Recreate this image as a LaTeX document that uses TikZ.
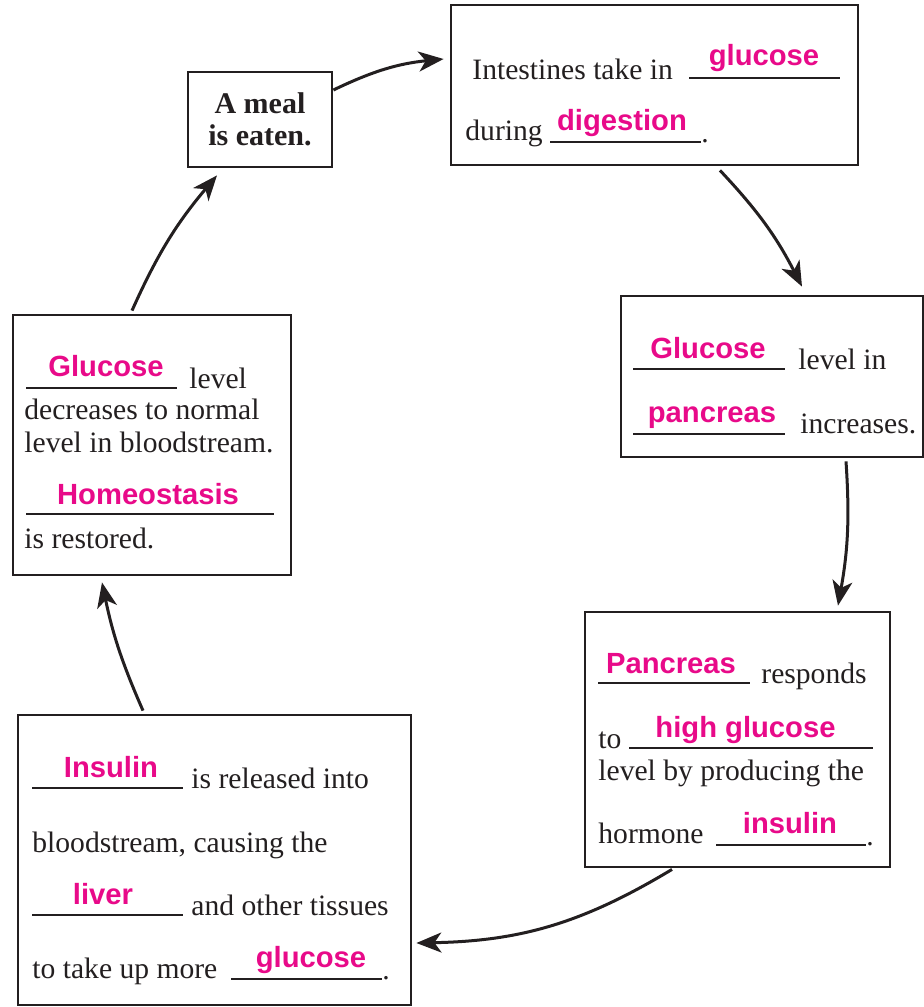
\documentclass[tikz,border=0pt]{standalone}
\usepackage{fontspec}
\setmainfont{Liberation Serif}
\newfontfamily\answerfont{Liberation Sans}
\usepackage{xcolor}
\usetikzlibrary{positioning, arrows.meta}
\definecolor{answerpink}{RGB}{232,10,137}
\definecolor{ink}{RGB}{35,31,32}

\begin{document}
\begin{tikzpicture}[x=0.5pt, y=0.5pt,
  box/.style={draw=ink, line width=1.4pt, inner sep=0pt},
  txt/.style={anchor=base west, inner sep=0pt, text=ink, font=\fontsize{14.8}{17}\selectfont},
  answer/.style={anchor=base, inner sep=0pt, text=answerpink, font=\answerfont\bfseries\fontsize{14.6}{17}\selectfont},
  blank/.style={draw=ink, line width=0.9pt},
  link/.style={draw=ink, line width=1.5pt, -{Stealth[length=12.5pt, width=10pt, inset=3.5pt]}}]

\useasboundingbox (0,0) rectangle (924,-1007);

% Boxes
\node[box, minimum width=72pt, minimum height=47.5pt, align=center, text=ink,
  font=\bfseries\fontsize{15}{16}\selectfont] (meal) at (260,-119.5) {A meal\\is eaten.};
\node[box, minimum width=203.5pt, minimum height=80pt] (intest) at (654.5,-85) {};
\node[box, minimum width=151pt, minimum height=80.5pt] (level) at (772,-376.5) {};
\node[box, minimum width=152.5pt, minimum height=127.5pt] (panc) at (737.5,-739.5) {};
\node[box, minimum width=196.5pt, minimum height=145pt] (insul) at (214.5,-860) {};
\node[box, minimum width=139pt, minimum height=130pt] (homeo) at (152,-445) {};

% Blanks
\foreach \xa/\xb/\y in {
689/840/-78, 550/701/-142,
633/785/-369, 633/785/-434,
598/750/-683, 629/873/-748, 716/866/-845,
32/183/-788, 32/183/-915, 231/382/-979,
26/177/-388, 26/274/-514}
\draw[blank] (\xa,\y) -- (\xb,\y);

% Intestines
\node[txt] (intest-a) at (472,-79) {Intestines take in};
\node[txt] (intest-b) at (465,-140) {during};
\node[txt] (intest-dot) at (701,-142) {.};
\node[answer] (ans-glucose-a) at (764,-65) {glucose};
\node[answer] (ans-digestion) at (622,-130) {digestion};

% Glucose level in pancreas
\node[txt] (level-a) at (798,-369) {level in};
\node[txt] (level-b) at (800,-433) {increases.};
\node[answer] (ans-glucose-b) at (708,-358) {Glucose};
\node[answer] (ans-pancreas) at (712,-422) {pancreas};

% Pancreas responds
\node[txt] (panc-a) at (761,-683) {responds};
\node[txt] (panc-b) at (598,-748) {to};
\node[txt] (panc-c) at (598,-780) {level by producing the};
\node[txt] (panc-d) at (598,-843) {hormone};
\node[txt] (panc-dot) at (866,-845) {.};
\node[answer] (ans-pancreas-b) at (671,-673) {Pancreas};
\node[answer] (ans-high) at (745.5,-737) {high glucose};
\node[answer] (ans-insulin) at (790,-833) {insulin};

% Insulin released
\node[txt] (insul-a) at (191,-788) {is released into};
\node[txt] (insul-b) at (32,-852) {bloodstream, causing the};
\node[txt] (insul-c) at (191,-915) {and other tissues};
\node[txt] (insul-d) at (32,-978) {to take up more};
\node[txt] (insul-dot) at (382,-979) {.};
\node[answer] (ans-insulin-b) at (111,-777) {Insulin};
\node[answer] (ans-liver) at (103,-904) {liver};
\node[answer] (ans-glucose-c) at (311,-967) {glucose};

% Homeostasis restored
\node[txt] (homeo-a) at (189,-388) {level};
\node[txt] (homeo-b) at (24,-419) {decreases to normal};
\node[txt] (homeo-c) at (24,-452) {level in bloodstream.};
\node[txt] (homeo-d) at (24,-548) {is restored.};
\node[answer] (ans-glucose-d) at (106,-376) {Glucose};
\node[answer] (ans-homeo) at (148,-504) {Homeostasis};

% Cycle arrows
\draw[link] ([yshift=14.75pt]meal.east) to[bend left=10] ([xshift=-3pt, yshift=13pt]intest.west);
\draw[link] ([xshift=32.75pt, yshift=-2pt]intest.south) to[bend left=8] ([xshift=15pt, yshift=4pt]level.north);
\draw[link] ([xshift=37pt, yshift=-1.5pt]level.south) to[bend left=7] ([xshift=50.25pt, yshift=2.5pt]panc.north);
\draw[link] ([xshift=-32.75pt, yshift=-0.5pt]panc.south) to[bend left=15] ([xshift=2pt, yshift=-41.5pt]insul.east);
\draw[link] ([xshift=-35.75pt, yshift=1.5pt]insul.north) to[bend left=6] ([xshift=-25pt, yshift=-3pt]homeo.south);
\draw[link] ([xshift=-10pt, yshift=1.5pt]homeo.north) to[bend left=8] ([xshift=-21.5pt, yshift=-3.5pt]meal.south);

\end{tikzpicture}
\end{document}
